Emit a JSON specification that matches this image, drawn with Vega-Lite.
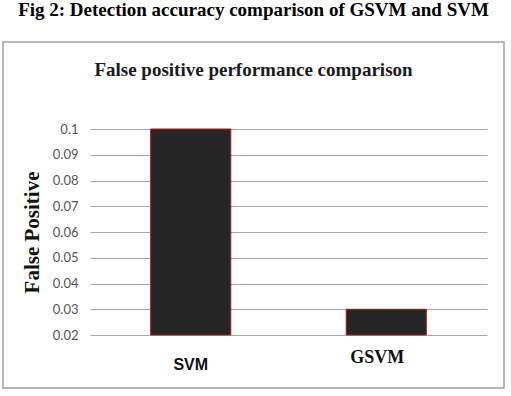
{
  "$schema": "https://vega.github.io/schema/vega-lite/v6.json",
  "width": 501,
  "height": 346,
  "autosize": {"type": "none"},
  "padding": {"left": 3, "top": 42, "right": 7, "bottom": 8},
  "background": "white",
  "title": {
    "text": "Fig 2: Detection accuracy comparison of GSVM and SVM",
    "subtitle": "False positive performance comparison",
    "anchor": "middle",
    "font": "Liberation Serif",
    "fontSize": 19,
    "fontWeight": "bold",
    "color": "#000000",
    "subtitleFont": "Liberation Serif",
    "subtitleFontSize": 19,
    "subtitleFontWeight": "bold",
    "subtitleColor": "#1a1a1a",
    "subtitlePadding": 41,
    "offset": -38
  },
  "data": {"values": [
    {"model": "SVM", "fp": 0.1},
    {"model": "GSVM", "fp": 0.03}
  ]},
  "mark": {"type": "bar", "fill": "#262626", "stroke": "#b01c1c", "strokeWidth": 1},
  "encoding": {
    "x": {
      "field": "model",
      "type": "nominal",
      "sort": ["SVM", "GSVM"],
      "scale": {"range": [87, 484], "paddingInner": 0.59, "paddingOuter": 0.31},
      "axis": {
        "title": null,
        "orient": "bottom",
        "offset": -53,
        "ticks": false,
        "domain": false,
        "grid": false,
        "labelAngle": 0,
        "labelBaseline": "middle",
        "labelFontWeight": "bold",
        "labelColor": "#111111",
        "labelFont": {"condition": {"test": "datum.value == 'GSVM'", "value": "Liberation Serif"}, "value": "Liberation Sans"},
        "labelFontSize": {"condition": {"test": "datum.value == 'GSVM'", "value": 18}, "value": 16},
        "labelPadding": {"condition": {"test": "datum.value == 'GSVM'", "value": 22}, "value": 29},
        "labelOffset": {"condition": {"test": "datum.value == 'GSVM'", "value": -9}, "value": 0}
      }
    },
    "y": {
      "field": "fp",
      "type": "quantitative",
      "scale": {"domain": [0.02, 0.1], "range": [293, 87], "zero": false},
      "axis": {
        "title": "False Positive",
        "orient": "left",
        "offset": -87,
        "values": [0.02, 0.03, 0.04, 0.05, 0.06, 0.07, 0.08, 0.09, 0.1],
        "format": ".2~f",
        "domain": false,
        "grid": false,
        "ticks": true,
        "tickSize": -397,
        "tickColor": "#a6a6a6",
        "tickWidth": 1,
        "labelFont": "Lato",
        "labelFontSize": 13,
        "labelColor": "#555555",
        "labelPadding": 409,
        "titleFont": "Liberation Serif",
        "titleFontSize": 21,
        "titleFontWeight": "bold",
        "titleColor": "#111111",
        "titlePadding": 10
      }
    },
    "y2": {"datum": 0.02}
  },
  "config": {"view": {"stroke": "#a0a0a0", "strokeWidth": 1.5}}
}
